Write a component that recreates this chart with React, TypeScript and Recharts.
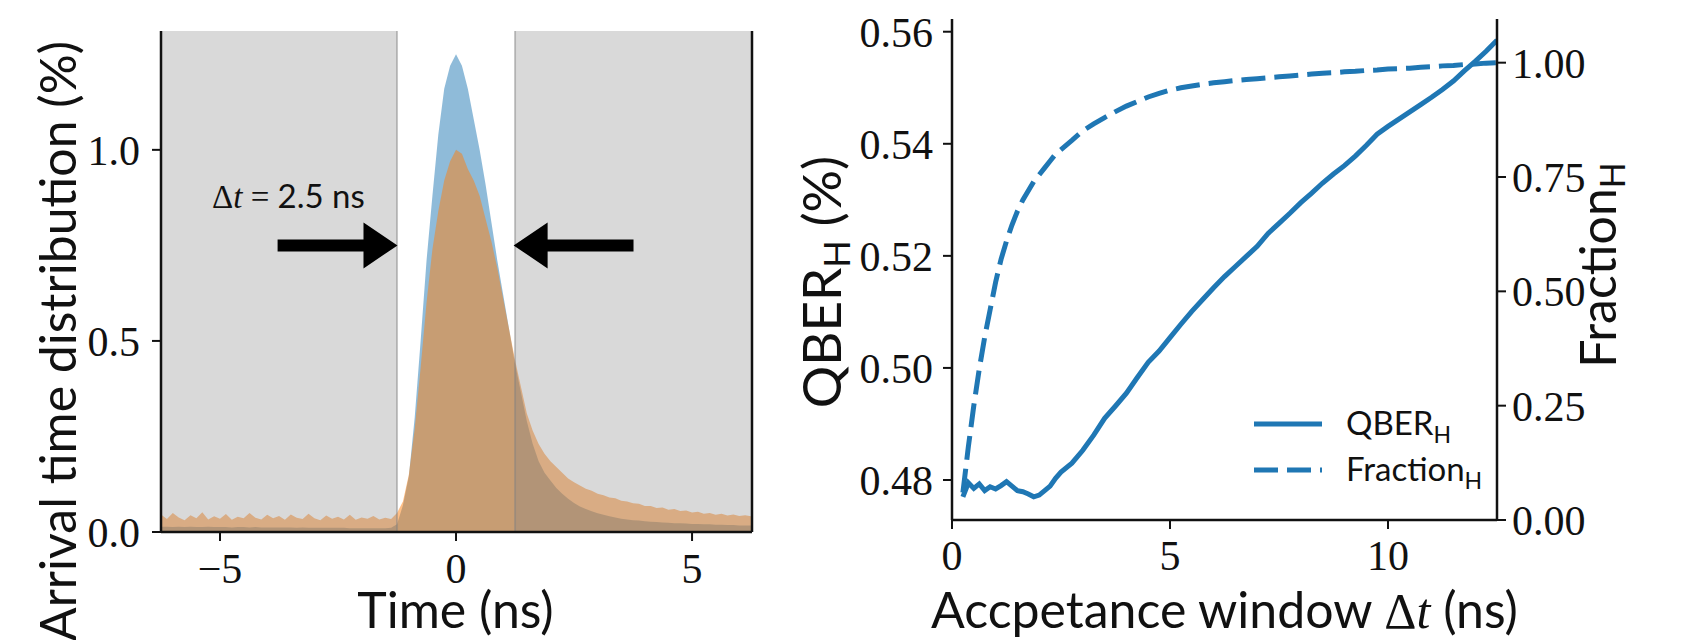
import React from 'react';
import {
  AreaChart,
  Area,
  LineChart,
  Line,
  XAxis,
  YAxis,
  ReferenceArea,
  ReferenceLine,
  ReferenceDot,
  Legend,
} from 'recharts';

// left panel: arrival time histograms (share of counts in %, bins in ns)
const timeNs = [
  -6.25, -6.125, -6, -5.875, -5.75, -5.625, -5.5, -5.375, -5.25, -5.125,
  -5, -4.875, -4.75, -4.625, -4.5, -4.375, -4.25, -4.125, -4, -3.875,
  -3.75, -3.625, -3.5, -3.375, -3.25, -3.125, -3, -2.875, -2.75, -2.625,
  -2.5, -2.375, -2.25, -2.125, -2, -1.875, -1.75, -1.625, -1.5, -1.375,
  -1.25, -1.125, -1, -0.875, -0.75, -0.625, -0.5, -0.375, -0.25, -0.125,
  0, 0.125, 0.25, 0.375, 0.5, 0.625, 0.75, 0.875, 1, 1.125,
  1.25, 1.375, 1.5, 1.625, 1.75, 1.875, 2, 2.125, 2.25, 2.375,
  2.5, 2.625, 2.75, 2.875, 3, 3.125, 3.25, 3.375, 3.5, 3.625,
  3.75, 3.875, 4, 4.125, 4.25, 4.375, 4.5, 4.625, 4.75, 4.875,
  5, 5.125, 5.25, 5.375, 5.5, 5.625, 5.75, 5.875, 6, 6.125,
  6.25,
];

const shareBlue = [
  0.014, 0.014, 0.013, 0.014, 0.013, 0.014, 0.013, 0.013, 0.014, 0.013,
  0.013, 0.013, 0.012, 0.013, 0.013, 0.012, 0.013, 0.012, 0.012, 0.012,
  0.012, 0.012, 0.012, 0.011, 0.012, 0.011, 0.011, 0.011, 0.011, 0.011,
  0.011, 0.011, 0.01, 0.01, 0.01, 0.01, 0.01, 0.01, 0.01, 0.011,
  0.02, 0.07, 0.145, 0.3, 0.5, 0.71, 0.88, 1.04, 1.16, 1.22,
  1.25, 1.22, 1.16, 1.08, 1.0, 0.91, 0.81, 0.71, 0.62, 0.53,
  0.44, 0.365, 0.29, 0.23, 0.185, 0.155, 0.135, 0.115, 0.1, 0.087,
  0.076, 0.067, 0.06, 0.054, 0.049, 0.045, 0.041, 0.038, 0.035, 0.033,
  0.031, 0.03, 0.028, 0.027, 0.026, 0.025, 0.024, 0.023, 0.023, 0.022,
  0.021, 0.021, 0.02, 0.02, 0.019, 0.019, 0.018, 0.018, 0.017, 0.017,
  0.017,
];

const shareOrange = [
  0.046, 0.034, 0.05, 0.038, 0.031, 0.044, 0.036, 0.052, 0.033, 0.041,
  0.035, 0.047, 0.032, 0.04, 0.036, 0.05, 0.037, 0.033, 0.045, 0.036,
  0.042, 0.032, 0.046, 0.037, 0.034, 0.048, 0.036, 0.031, 0.043, 0.035,
  0.04, 0.033, 0.045, 0.032, 0.038, 0.035, 0.042, 0.033, 0.037, 0.034,
  0.05, 0.08, 0.15, 0.27, 0.43, 0.6, 0.74, 0.84, 0.92, 0.97,
  1.0, 0.99, 0.95, 0.92, 0.88, 0.82, 0.76, 0.69, 0.61, 0.53,
  0.45, 0.38, 0.31, 0.265, 0.23, 0.205, 0.185, 0.17, 0.155, 0.14,
  0.13, 0.122, 0.113, 0.108, 0.1, 0.096, 0.09, 0.088, 0.082, 0.08,
  0.075, 0.074, 0.068, 0.068, 0.063, 0.064, 0.058, 0.06, 0.055, 0.056,
  0.051, 0.053, 0.048, 0.05, 0.045, 0.048, 0.043, 0.046, 0.042, 0.044,
  0.041,
];

const timeTicks = [-5, 0, 5];
const shareTicks = [0, 0.5, 1.0];

// right panel: acceptance window scan
const windowNs = [
  0.25, 0.375, 0.5, 0.625, 0.75, 0.875, 1, 1.125, 1.25, 1.375,
  1.5, 1.625, 1.75, 1.875, 2, 2.125, 2.25, 2.375, 2.5, 2.75,
  3, 3.25, 3.5, 3.75, 4, 4.25, 4.5, 4.75, 5, 5.25,
  5.5, 5.75, 6, 6.25, 6.5, 6.75, 7, 7.25, 7.5, 7.75,
  8, 8.25, 8.5, 8.75, 9, 9.25, 9.5, 9.75, 10, 10.25,
  10.5, 10.75, 11, 11.25, 11.5, 11.75, 12, 12.25, 12.5,
];

const qberH = [
  0.477, 0.4795, 0.4785, 0.4793, 0.4781, 0.4788, 0.4784, 0.479, 0.4797, 0.4789,
  0.4781, 0.4779, 0.4775, 0.477, 0.4773, 0.4781, 0.4789, 0.4803, 0.4814, 0.483,
  0.4853, 0.488, 0.491, 0.4932, 0.4955, 0.4983, 0.501, 0.503, 0.5054, 0.5078,
  0.5101, 0.5122, 0.5143, 0.5163, 0.5181, 0.5199, 0.5217, 0.524, 0.5258, 0.5276,
  0.5295, 0.5312, 0.533, 0.5346, 0.5361, 0.5378, 0.5397, 0.5417, 0.5431, 0.5444,
  0.5457, 0.547, 0.5483, 0.5497, 0.5512, 0.553, 0.5547, 0.5565, 0.5585,
];

const fractionH = [
  0.06, 0.16, 0.25, 0.33, 0.4, 0.46, 0.52, 0.57, 0.61, 0.645,
  0.675, 0.7, 0.72, 0.74, 0.755, 0.77, 0.785, 0.8, 0.81, 0.83,
  0.851, 0.866, 0.88, 0.893, 0.905, 0.915, 0.925, 0.933, 0.94, 0.945,
  0.949, 0.953, 0.956, 0.9585, 0.961, 0.963, 0.965, 0.967, 0.969, 0.971,
  0.973, 0.975, 0.977, 0.978, 0.98, 0.981, 0.983, 0.984, 0.986, 0.987,
  0.988, 0.99, 0.991, 0.993, 0.994, 0.996, 0.997, 0.999, 1.0,
];

const windowTicks = [0, 5, 10];
const qberTicks = [0.48, 0.5, 0.52, 0.54, 0.56];
const fractionTicks = [0, 0.25, 0.5, 0.75, 1.0];

const histData = timeNs.map((t, i) => ({ t, blue: shareBlue[i], orange: shareOrange[i] }));
const scanData = windowNs.map((w, i) => ({ w, qber: qberH[i], fraction: fractionH[i] }));

const BLUE = '#1f77b4';
const SANS = 'Lato, "DejaVu Sans", sans-serif';
const SERIF = '"Liberation Serif", "DejaVu Serif", serif';
const DASH = '24 9';

const frame = { stroke: '#111', strokeWidth: 2.5 };
const tickLine = { stroke: '#111', strokeWidth: 2 };
const tickText = { fill: '#111', fontSize: 42, fontFamily: SERIF };

const minus = (v: number) => (v < 0 ? `\u2212${Math.abs(v)}` : `${v}`);

// black block arrow drawn between the two ends of a reference segment
const Arrow = (props: any) => {
  const { x1, y1, x2 } = props;
  const dir = x2 > x1 ? 1 : -1;
  const base = x2 - dir * 34;
  const pts = [
    [x1, y1 - 6], [base, y1 - 6], [base, y1 - 23], [x2, y1],
    [base, y1 + 23], [base, y1 + 6], [x1, y1 + 6],
  ]
    .map((p) => p.join(','))
    .join(' ');
  return <polygon points={pts} fill="#000" />;
};

const WindowNote = (props: any) => (
  <text x={props.cx} y={props.cy} textAnchor="middle" fontSize={33} fill="#111" fontFamily={SANS}>
    <tspan fontFamily={SERIF}>Δ</tspan>
    <tspan fontFamily={SERIF} fontStyle="italic">t</tspan>
    <tspan fontFamily={SERIF}> = </tspan>
    <tspan>2.5 ns</tspan>
  </text>
);

const ScanLegend = () => (
  <div style={{ fontFamily: SANS, fontSize: 33, color: '#111' }}>
    {[
      { name: 'QBER', dash: undefined },
      { name: 'Fraction', dash: DASH },
    ].map((item) => (
      <div key={item.name} style={{ display: 'flex', alignItems: 'center', height: 46 }}>
        <svg width={70} height={46}>
          <line x1={0} y1={23} x2={68} y2={23} stroke={BLUE} strokeWidth={5} strokeDasharray={item.dash} />
        </svg>
        <span style={{ marginLeft: 22, lineHeight: '46px' }}>
          {item.name}
          <span style={{ fontSize: 23, position: 'relative', top: 8 }}>H</span>
        </span>
      </div>
    ))}
  </div>
);

const ArrivalPanel = () => (
  <AreaChart width={760} height={640} data={histData} margin={{ top: 31, right: 0, bottom: 0, left: 0 }}>
    <XAxis
      dataKey="t"
      type="number"
      domain={[-6.25, 6.27]}
      allowDataOverflow
      ticks={timeTicks}
      tickFormatter={minus}
      height={108}
      tickSize={9}
      tickMargin={12}
      tick={tickText}
      tickLine={tickLine}
      axisLine={frame}
      label={() => (
        <text x={455.5} y={628} textAnchor="middle" fontSize={50} fontFamily={SANS} fill="#111">
          Time (ns)
        </text>
      )}
    />
    <XAxis xAxisId="top" orientation="top" dataKey="t" type="number" domain={[-6.25, 6.27]} height={0} tick={false} tickLine={false} axisLine={frame} />
    <YAxis
      type="number"
      domain={[0, 1.311]}
      allowDataOverflow
      ticks={shareTicks}
      tickFormatter={(v: number) => v.toFixed(1)}
      width={161}
      tickSize={9}
      tickMargin={12}
      tick={tickText}
      tickLine={tickLine}
      axisLine={frame}
      label={() => (
        <text x={76} y={341} transform="rotate(-90 76 341)" textAnchor="middle" fontSize={50} fontFamily={SANS} fill="#111">
          Arrival time distribution (%)
        </text>
      )}
    />
    <YAxis yAxisId="frame" orientation="right" domain={[0, 1]} width={8} tick={false} tickLine={false} axisLine={frame} />
    <Area dataKey="blue" type="linear" fill={BLUE} fillOpacity={0.5} stroke="none" isAnimationActive={false} />
    <Area dataKey="orange" type="linear" fill="#ff7f0e" fillOpacity={0.5} stroke="none" isAnimationActive={false} />
    <ReferenceArea x1={-6.25} x2={-1.25} fill="#808080" fillOpacity={0.3} stroke="none" zIndex={150} />
    <ReferenceArea x1={1.25} x2={6.27} fill="#808080" fillOpacity={0.3} stroke="none" zIndex={150} />
    <ReferenceLine x={-1.25} stroke="#808080" strokeOpacity={0.45} strokeWidth={2} zIndex={150} />
    <ReferenceLine x={1.25} stroke="#808080" strokeOpacity={0.45} strokeWidth={2} zIndex={150} />
    <ReferenceLine segment={[{ x: -3.78, y: 0.75 }, { x: -1.24, y: 0.75 }]} shape={Arrow} zIndex={160} />
    <ReferenceLine segment={[{ x: 3.76, y: 0.75 }, { x: 1.22, y: 0.75 }]} shape={Arrow} zIndex={160} />
    <ReferenceDot x={-3.55} y={0.848} r={0} shape={WindowNote} zIndex={160} />
  </AreaChart>
);

const ScanPanel = () => (
  <LineChart width={937} height={640} data={scanData} margin={{ top: 19, right: 0, bottom: 0, left: 0 }}>
    <XAxis
      dataKey="w"
      type="number"
      domain={[0, 12.5]}
      allowDataOverflow
      ticks={windowTicks}
      height={120}
      tickSize={9}
      tickMargin={11}
      tick={tickText}
      tickLine={tickLine}
      axisLine={frame}
      label={() => (
        <text x={464.5} y={628} textAnchor="middle" fontSize={50} fontFamily={SANS} fill="#111">
          Accpetance window <tspan fontFamily={SERIF}>Δ</tspan>
          <tspan fontFamily={SERIF} fontStyle="italic">t</tspan> (ns)
        </text>
      )}
    />
    <XAxis xAxisId="top" orientation="top" dataKey="w" type="number" domain={[0, 12.5]} height={0} tick={false} tickLine={false} axisLine={frame} />
    <YAxis
      yAxisId="qber"
      type="number"
      domain={[0.47286, 0.56227]}
      allowDataOverflow
      ticks={qberTicks}
      tickFormatter={(v: number) => v.toFixed(2)}
      width={192}
      tickSize={9}
      tickMargin={10}
      tick={tickText}
      tickLine={tickLine}
      axisLine={frame}
      label={() => (
        <text x={81} y={282} transform="rotate(-90 81 282)" textAnchor="middle" fontSize={53} fontFamily={SANS} fill="#111">
          QBER<tspan fontSize={36} dy={9}>H</tspan>
          <tspan dy={-9}> (%)</tspan>
        </text>
      )}
    />
    <YAxis
      yAxisId="frac"
      orientation="right"
      type="number"
      domain={[0, 1.0955]}
      allowDataOverflow
      ticks={fractionTicks}
      tickFormatter={(v: number) => v.toFixed(2)}
      width={200}
      tickSize={9}
      tickMargin={6}
      tick={tickText}
      tickLine={tickLine}
      axisLine={frame}
      label={() => (
        <text x={856} y={265} transform="rotate(-90 856 265)" textAnchor="middle" fontSize={50} fontFamily={SANS} fill="#111">
          Fraction<tspan fontSize={34} dy={9}>H</tspan>
        </text>
      )}
    />
    <Line yAxisId="qber" dataKey="qber" type="linear" stroke={BLUE} strokeWidth={5} dot={false} isAnimationActive={false} />
    <Line yAxisId="frac" dataKey="fraction" type="linear" stroke={BLUE} strokeWidth={5} strokeDasharray={DASH} dot={false} isAnimationActive={false} />
    <Legend
      layout="horizontal"
      verticalAlign="middle"
      align="center"
      content={ScanLegend}
      wrapperStyle={{ left: 494, top: 401, width: 300, height: 92 }}
    />
  </LineChart>
);

export default function App() {
  return (
    <div style={{ position: 'absolute', left: 0, top: 0, width: 1697, height: 640, background: '#fff' }}>
      <div style={{ position: 'absolute', left: 0, top: 0 }}>
        <ArrivalPanel />
      </div>
      <div style={{ position: 'absolute', left: 760, top: 0 }}>
        <ScanPanel />
      </div>
    </div>
  );
}
